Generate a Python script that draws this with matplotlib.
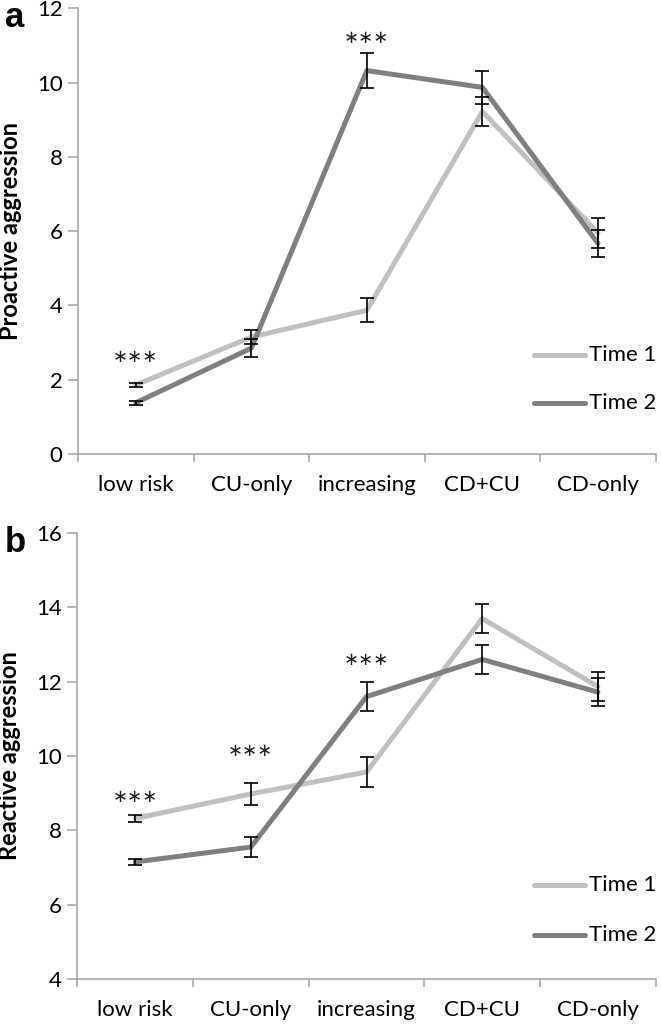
import numpy as np
import matplotlib
matplotlib.use("Agg")
import matplotlib.pyplot as plt
from matplotlib.ticker import FixedLocator

plt.rcParams['font.family'] = ['Lato', 'DejaVu Sans']

groups = ['low risk', 'CU-only', 'increasing', 'CD+CU', 'CD-only']

# panel a: proactive aggression
pro_t1 = [1.86, 3.15, 3.87, 9.22, 5.95]
pro_t1_err = [0.05, 0.19, 0.32, 0.40, 0.40]
pro_t2 = [1.38, 2.85, 10.32, 9.87, 5.67]
pro_t2_err = [0.05, 0.24, 0.48, 0.45, 0.37]
pro_sig = {'low risk': 2.6, 'increasing': 11.2}

# panel b: reactive aggression
rea_t1 = [8.32, 8.98, 9.57, 13.70, 11.87]
rea_t1_err = [0.09, 0.29, 0.41, 0.38, 0.38]
rea_t2 = [7.15, 7.55, 11.60, 12.60, 11.72]
rea_t2_err = [0.07, 0.27, 0.38, 0.40, 0.38]
rea_sig = {'low risk': 8.9, 'CU-only': 10.14, 'increasing': 12.58}

c_t1 = '#c0c0c0'
c_t2 = '#7f7f7f'
spine_c = '#a8a8a8'


def panel(ax, t1, e1, t2, e2, sig, ylim, label, letter, leg_y):
    x = np.arange(len(groups))
    ax.plot(x, t1, color=c_t1, lw=3.6, solid_capstyle='round', zorder=2)
    ax.plot(x, t2, color=c_t2, lw=3.6, solid_capstyle='round', zorder=3)
    for vals, errs in [(t1, e1), (t2, e2)]:
        ax.errorbar(x, vals, yerr=errs, fmt='none', ecolor='black',
                    elinewidth=1.2, capsize=5, capthick=1.2, zorder=4)
    for g, yv in sig.items():
        ax.text(groups.index(g), yv, '\u2217\u2217\u2217', ha='center',
                va='center', fontsize=13, color='#222222',
                family='DejaVu Sans')

    ax.set_xlim(-0.5, len(groups) - 0.5)
    ax.set_ylim(*ylim)
    ax.set_yticks(np.arange(ylim[0], ylim[1] + 1, 2))
    ax.set_xticks(x)
    ax.set_xticklabels(groups)
    ax.xaxis.set_minor_locator(FixedLocator(np.arange(-0.5, len(groups), 1)))
    ax.tick_params(axis='x', which='major', length=0, pad=15, labelsize=16)
    ax.tick_params(axis='x', which='minor', length=6, width=1.2,
                   color=spine_c, direction='out')
    ax.tick_params(axis='y', length=7, width=1.2, color=spine_c,
                   pad=4, labelsize=16)
    for s in ['top', 'right']:
        ax.spines[s].set_visible(False)
    for s in ['left', 'bottom']:
        ax.spines[s].set_color(spine_c)
        ax.spines[s].set_linewidth(1.2)
    ax.set_ylabel(label, fontsize=17, fontweight='bold')
    ax.yaxis.set_label_coords(-0.097, 0.5)
    ax.text(-0.126, 0.957, letter, transform=ax.transAxes, fontsize=25,
            fontweight='bold', va='baseline', ha='left',
            family='Liberation Sans')

    # legend drawn by hand like the original (lines with text on the right)
    for (name, col), yy in zip([('Time 1', c_t1), ('Time 2', c_t2)], leg_y):
        ax.plot([0.79, 0.878], [yy, yy], transform=ax.transAxes, color=col,
                lw=3.6, solid_capstyle='round', clip_on=False)
        ax.text(0.884, yy, name, transform=ax.transAxes, fontsize=16,
                va='center', ha='left')


fig = plt.figure(figsize=(6.61, 10.25), dpi=100)
ax_a = fig.add_axes([0.118, 0.557, 0.874, 0.435])
ax_b = fig.add_axes([0.117, 0.0449, 0.875, 0.435])

panel(ax_a, pro_t1, pro_t1_err, pro_t2, pro_t2_err, pro_sig, (0, 12),
      'Proactive aggression', 'a', [0.222, 0.114])
panel(ax_b, rea_t1, rea_t1_err, rea_t2, rea_t2_err, rea_sig, (4, 16),
      'Reactive aggression', 'b', [0.211, 0.099])

fig.savefig('out.png', dpi=100)
